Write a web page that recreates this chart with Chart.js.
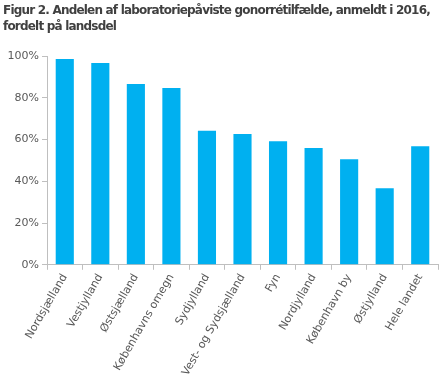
<!DOCTYPE html>
<html><head><meta charset="utf-8">
<script src="https://cdn.jsdelivr.net/npm/chart.js@4/dist/chart.umd.min.js"></script>
<style>html,body{margin:0;padding:0;background:#fff}#wrap{width:440px;height:380px;position:relative}
#title{position:absolute;left:3px;top:2px;font-family:'DejaVu Sans',sans-serif;font-weight:bold;font-size:12px;font-stretch:normal;letter-spacing:0px;line-height:16px;color:#404040;white-space:nowrap}
#title span{display:block}
canvas{position:absolute;left:0;top:0}</style>
</head><body><div id="wrap"><canvas id="c" width="440" height="380"></canvas><div id="title"></div></div>
<script>
const titleLines = ["Figur 2. Andelen af laboratoriepåviste gonorrétilfælde, anmeldt i 2016,", "fordelt på landsdel"];
const categories = ["Nordsjælland","Vestjylland","Østsjælland","Københavns omegn","Sydjylland","Vest- og Sydsjælland","Fyn","Nordjylland","København by","Østjylland","Hele landet"];
const shares = [98.6, 96.6, 86.6, 84.7, 64.2, 62.6, 59.2, 55.9, 50.6, 36.7, 56.8];
const yTicks = [0, 20, 40, 60, 80, 100];

const t = document.getElementById('title');
titleLines.forEach(l => { const s = document.createElement('span'); s.textContent = l; t.appendChild(s); });
// fit the first line to the reference width (~427px) by tightening letter spacing
const first = t.firstChild; first.style.display = 'inline-block';
const w = first.getBoundingClientRect().width;
const ls = (427 - w) / titleLines[0].length;
t.style.letterSpacing = ls.toFixed(2) + 'px';
first.style.display = 'block';

new Chart(document.getElementById('c'), {
  type: 'bar',
  data: { labels: categories, datasets: [{ data: shares, backgroundColor: '#00b0f0', barPercentage: 0.51, categoryPercentage: 1.0 }] },
  options: {
    responsive: false, animation: false,
    layout: { padding: { left: 4, right: 2, top: 56, bottom: 0 } },
    plugins: { legend: { display: false }, tooltip: { enabled: false } },
    scales: {
      x: {
        grid: { display: true, drawOnChartArea: false, offset: true, color: '#bfbfbf', tickLength: 5 },
        border: { color: '#bfbfbf' },
        ticks: { color: '#595959', font: { family: 'DejaVu Sans', size: 11 }, minRotation: 60, maxRotation: 60, padding: 2 }
      },
      y: {
        min: 0, max: 100,
        afterBuildTicks: s => { s.ticks = yTicks.map(v => ({ value: v })); },
        afterFit: s => { s.width = 43; },
        grid: { display: true, drawOnChartArea: false, color: '#bfbfbf', tickLength: 5 },
        border: { color: '#bfbfbf' },
        ticks: { color: '#595959', font: { family: 'DejaVu Sans', size: 11 }, padding: 3, callback: v => v + '%' }
      }
    }
  }
});
</script></body></html>
